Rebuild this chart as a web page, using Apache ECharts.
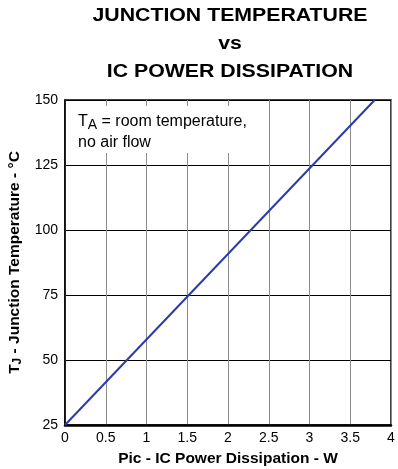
<!DOCTYPE html>
<html>
<head>
<meta charset="utf-8">
<script src="https://cdn.jsdelivr.net/npm/echarts@6/dist/echarts.min.js"></script>
<style>
  html, body { margin: 0; padding: 0; background: #fff; }
  #chart { width: 398px; height: 469px; }
</style>
</head>
<body>
<div id="chart"></div>
<script>
// Junction temperature rises linearly with IC power dissipation
const powerW = [0, 3.8];
const junctionTempC = [25, 150];
const xTicks = [0, 0.5, 1, 1.5, 2, 2.5, 3, 3.5, 4];
const yTicks = [25, 50, 75, 100, 125, 150];

const FONT = '"Liberation Sans", Arial, sans-serif';

const chart = echarts.init(document.getElementById('chart'), null, { renderer: 'canvas' });

chart.setOption({
  animation: false,
  backgroundColor: '#fff',
  grid: {
    left: 65, right: 7, top: 100, bottom: 44,
    outerBoundsMode: 'none',
    containLabel: false,
    show: true,
    borderColor: '#000',
    borderWidth: 1.5,
    backgroundColor: 'transparent'
  },
  xAxis: {
    type: 'value',
    min: xTicks[0],
    max: xTicks[xTicks.length - 1],
    interval: 0.5,
    name: 'Pic - IC Power Dissipation - W',
    nameLocation: 'middle',
    nameGap: 26,
    nameTextStyle: { fontFamily: FONT, fontWeight: 'bold', fontSize: 15.5, color: '#000' },
    axisLine: { show: true, lineStyle: { color: '#000', width: 2.5 } },
    axisTick: { show: false },
    axisLabel: { fontFamily: FONT, fontSize: 14, color: '#000', margin: 6, showMaxLabel: true },
    splitLine: { show: true, lineStyle: { color: '#8c8c8c', width: 1 } }
  },
  yAxis: {
    type: 'value',
    min: yTicks[0],
    max: yTicks[yTicks.length - 1],
    interval: 25,
    name: 'T{sub|J} - Junction Temperature - °C',
    nameLocation: 'middle',
    nameRotate: 90,
    nameGap: 36,
    nameTextStyle: {
      fontFamily: FONT, fontWeight: 'bold', fontSize: 15.5, color: '#000',
      rich: {
        sub: { fontFamily: FONT, fontWeight: 'bold', fontSize: 12, color: '#000', padding: [6, 0, 0, 0], verticalAlign: 'bottom' }
      }
    },
    axisLine: { show: true, lineStyle: { color: '#000', width: 1.5 } },
    axisTick: { show: false },
    axisLabel: { fontFamily: FONT, fontSize: 14, color: '#000', margin: 7 },
    splitLine: { show: true, lineStyle: { color: '#000', width: 1 } }
  },
  series: [{
    type: 'line',
    data: powerW.map((p, i) => [p, junctionTempC[i]]),
    symbol: 'none',
    lineStyle: { color: '#2b3ba8', width: 2 },
    z: 5
  }],
  graphic: [{
    // Three-line heading, drawn slightly widened
    type: 'text',
    x: 230,
    y: 2,
    scaleX: 1.12,
    z: 100,
    style: {
      x: 0,
      y: 0,
      text: 'JUNCTION TEMPERATURE\nvs\nIC POWER DISSIPATION',
      align: 'center',
      verticalAlign: 'top',
      fontFamily: FONT,
      fontWeight: 'bold',
      fontSize: 19,
      lineHeight: 28,
      fill: '#000'
    }
  }, {
    // Test-condition note inside the plot
    type: 'text',
    left: 66,
    top: 106,
    z: 100,
    style: {
      text: 'T{sub|A} = room temperature,\nno air flow',
      fontFamily: FONT,
      fontSize: 16,
      lineHeight: 21,
      fill: '#000',
      backgroundColor: '#fff',
      padding: [5, 10, 0, 12],
      rich: {
        sub: { fontFamily: FONT, fontSize: 14, fill: '#000', padding: [7, 0, 0, 0], verticalAlign: 'bottom' }
      }
    }
  }]
});
</script>
</body>
</html>
